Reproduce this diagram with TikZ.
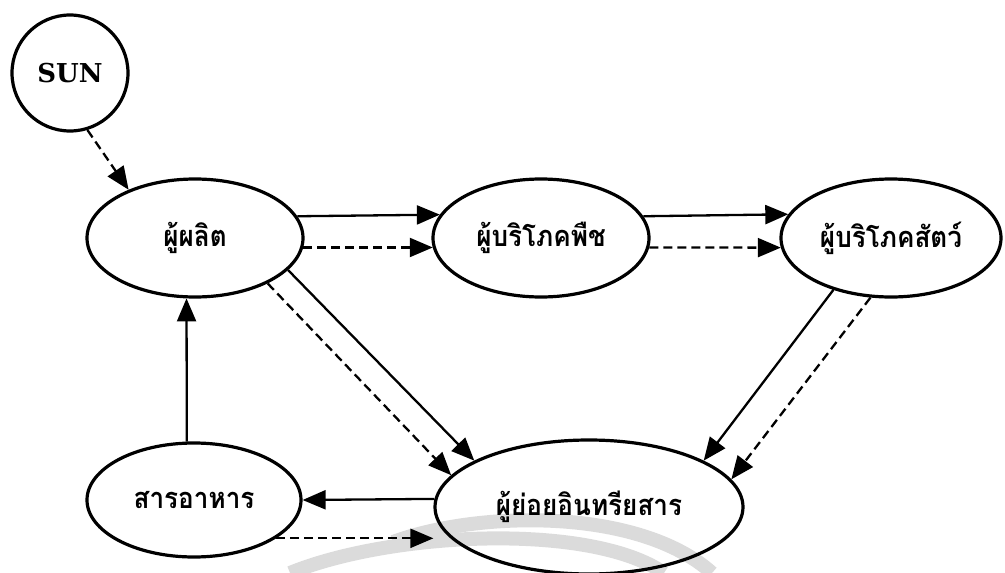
\documentclass[tikz,border=0pt]{standalone}
\usepackage{fontspec}
\newfontfamily\thaifont[Script=Thai,FakeStretch=0.9]{Loma}
\newfontfamily\sunfont{DejaVu Serif}
\usetikzlibrary{shapes.geometric,arrows.meta,calc}
\tikzset{
  blob/.style={ellipse, draw, line width=3.2pt, inner sep=0pt,
    font=\thaifont\bfseries\fontsize{29}{33}\selectfont},
  flow/.style={line width=2.3pt, -{Triangle[length=23pt,width=19pt]}},
  energy/.style={flow, dash pattern=on 9pt off 5pt},
  mark band/.style={line width=14pt, draw=black!14, line cap=butt}
}
\begin{document}
\begin{tikzpicture}[x=1pt,y=-1pt]
\useasboundingbox (0,0) rectangle (1005,573);
\clip (0,0) rectangle (1005,573);
% faint bands in the lower part of the sheet
\draw[mark band] (393,542) .. controls (480,510) and (640,508) .. (712,573);
\draw[mark band] (290,573) .. controls (390,532) and (590,522) .. (664,573);

% nodes
\node[circle, draw, line width=3.2pt, minimum size=116pt, inner sep=0pt,
      font=\sunfont\bfseries\fontsize{26}{30}\selectfont] (sun) at (70,73) {SUN};
\node[blob, minimum width=216pt, minimum height=118pt] (prod) at (195,238) {ผู้ผลิต};
\node[blob, minimum width=216pt, minimum height=118pt] (herb) at (541,238) {ผู้บริโภคพืช};
\node[blob, minimum width=220pt, minimum height=118pt] (carn) at (891,238) {ผู้บริโภคสัตว์};
\node[blob, minimum width=214pt, minimum height=114pt] (food) at (194,500) {สารอาหาร};
\node[blob, minimum width=308pt, minimum height=134pt] (deco) at (589,507) {ผู้ย่อยอินทรียสาร};

% energy from the sun
\draw[energy] (sun.-73.3) -- (prod.144.8);

% along the food chain
\draw[flow]   (prod.12.4)  -- (herb.167.6);
\draw[energy] (prod.-5.4)  -- (herb.185.4);
\draw[flow]   (herb.12.4)  -- (carn.167.8);
\draw[energy] (herb.-5.4)  -- (carn.185.3);

% to the decomposers
\draw[flow]   (prod.-19.8) -- (deco.158);
\draw[energy] (prod.-32.7) -- (deco.167.6);
\draw[flow]   (carn.222.8) -- (deco.22);
\draw[energy] (carn.251.9) -- (deco.11.6);

% nutrient cycle
\draw[flow]   (deco.177.4) -- (food.east);
\draw[energy] (food.-25.5) -- (food.-25.5 -| deco.west);
\draw[flow]   (food.97)    -- (prod.262.3);
\end{tikzpicture}
\end{document}
